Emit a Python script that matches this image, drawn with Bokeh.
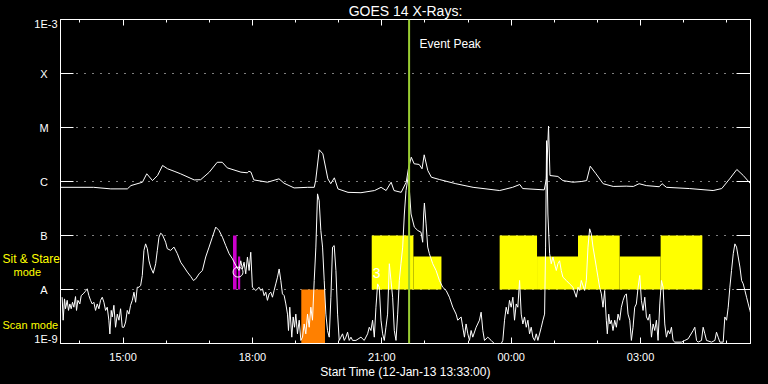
import pandas as pd
from bokeh.plotting import figure
from bokeh.layouts import row
from bokeh.models import (Range1d, FixedTicker, LogAxis, DatetimeAxis, Span, Label,
                          CustomJSTickFormatter)
from bokeh.embed import file_html
from bokeh.resources import INLINE
from bokeh.core.properties import value

# ---------------- data ----------------
START = "2013-01-12 13:33"
END = "2013-01-13 05:33"
EVENT_PEAK = "2013-01-12 21:38"

# long channel (minutes after start, flux W/m^2)
long_pts = [
    (0, 7.8e-7), (46, 7.8e-7), (70, 7.3e-7), (93, 7.3e-7), (98, 8.4e-7), (114, 9.7e-7),
    (120, 1.39e-6), (128, 1.04e-6), (135, 1.29e-6), (142, 1.98e-6), (149, 1.72e-6),
    (158, 1.55e-6), (167, 1.39e-6), (186, 1.07e-6), (195, 1.08e-6), (207, 1.49e-6),
    (218, 2.27e-6), (225, 2.27e-6), (232, 1.79e-6), (251, 1.49e-6), (260, 1.45e-6),
    (262, 1.55e-6), (265, 1.49e-6), (269, 1.07e-6), (288, 9.7e-7), (304, 1.12e-6),
    (311, 9.3e-7), (325, 7.6e-7), (344, 7.8e-7), (353, 7.8e-7), (355, 1.04e-6),
    (360, 3.86e-6), (365, 3.26e-6), (372, 1.12e-6), (376, 9.1e-7), (381, 1.17e-6),
    (386, 7.3e-7), (400, 6.3e-7), (418, 6.2e-7), (437, 6.8e-7), (446, 7.8e-7),
    (453, 6.8e-7), (460, 9.7e-7), (464, 6.8e-7), (474, 6.3e-7), (481, 9.7e-7),
    (484, 1.72e-6), (488, 2.82e-6), (492, 2.13e-6), (499, 2.07e-6), (503, 1.72e-6),
    (506, 3.12e-6), (511, 1.6e-6), (516, 1.2e-6), (527, 1.09e-6), (550, 9.1e-7),
    (574, 7.8e-7), (592, 7.3e-7), (611, 6.8e-7), (629, 7.8e-7), (639, 8.8e-7),
    (643, 7.4e-7), (673, 7.0e-7), (676, 1.12e-6), (679, 1.06e-5), (681, 1.29e-6),
    (692, 1.24e-6), (699, 1.04e-6), (713, 9.7e-7), (725, 1.0e-6), (732, 1.04e-6),
    (737, 1.92e-6), (745, 1.39e-6), (755, 9.1e-7), (769, 8.1e-7), (787, 8.2e-7),
    (797, 8.1e-7), (805, 9.1e-7), (815, 8.4e-7), (833, 8.0e-7), (837, 9.1e-7),
    (843, 7.8e-7), (875, 7.4e-7), (908, 6.8e-7), (920, 7.4e-7), (931, 1.12e-6),
    (941, 1.67e-6), (950, 1.29e-6), (960, 9.1e-7),
]

# short channel (minutes after start, flux W/m^2)
short_pts = [
    (2.3, 7.2e-9), (3.7, 2.7e-9), (5.6, 6.7e-9), (7.0, 4.4e-9), (9.3, 6.3e-9), (11.1, 4.1e-9),
    (13.0, 5.4e-9), (14.9, 4.4e-9), (16.7, 5.8e-9), (18.6, 4.7e-9), (20.9, 7.4e-9), (22.3, 4.1e-9),
    (24.2, 6.3e-9), (26.9, 5.4e-9), (28.8, 7.7e-9), (31.6, 8.3e-9), (34.8, 9.3e-9), (37.2, 1.03e-8),
    (39.5, 7.7e-9), (41.8, 6.3e-9), (44.1, 5.4e-9), (46.4, 5.8e-9), (48.8, 4.1e-9), (51.1, 5.4e-9),
    (53.4, 4.4e-9), (55.7, 6.3e-9), (58.1, 7.2e-9), (60.4, 5.8e-9), (62.7, 4.1e-9), (65.0, 4.7e-9),
    (67.3, 2.7e-9), (68.7, 1.5e-9), (70.6, 4.1e-9), (72.0, 3.1e-9), (74.3, 5.1e-9), (76.6, 2.0e-9),
    (79.0, 3.5e-9), (81.3, 2.7e-9), (83.6, 4.4e-9), (85.9, 2.0e-9), (88.3, 2.0e-9), (90.6, 2.5e-9),
    (92.9, 4.1e-9), (95.2, 3.5e-9), (97.5, 5.1e-9), (99.9, 6.3e-9), (102.2, 8.9e-9), (104.5, 5.8e-9),
    (106.8, 1.1e-8), (109.2, 1.1e-8), (111.5, 1.19e-8), (113.8, 1.82e-8), (116.1, 5.3e-8),
    (118.4, 7.0e-8), (120.8, 5.7e-8), (123.1, 3.4e-8), (125.4, 2.6e-8), (129.1, 2.0e-8),
    (132.4, 3.0e-8), (134.7, 5.3e-8), (137.0, 9.3e-8), (139.3, 1.1e-7), (141.7, 1.04e-7),
    (146.3, 7.5e-8), (148.6, 5.7e-8), (153.3, 5.3e-8), (157.9, 6.1e-8), (162.6, 4.6e-8),
    (167.2, 3.2e-8), (171.9, 2.6e-8), (176.5, 2.1e-8), (181.2, 1.74e-8), (184.9, 1.47e-8),
    (188.1, 1.57e-8), (192.8, 1.95e-8), (197.4, 2.25e-8), (202.0, 4.0e-8), (206.7, 6.1e-8),
    (211.3, 9.3e-8), (216.0, 1.43e-7), (220.6, 1.24e-7), (225.3, 9.3e-8), (229.9, 6.5e-8),
    (234.6, 4.6e-8), (239.2, 3.7e-8),
    (243.8, 2.8e-8), (248.4, 2.25e-8), (250.8, 3.4e-8), (253.1, 2.4e-8), (255.4, 3.2e-8),
    (257.7, 1.95e-8), (260.1, 4.0e-8), (262.4, 2.25e-8), (264.7, 4.9e-8), (267.0, 1.1e-8),
    (269.3, 1.03e-8), (271.7, 9.6e-9), (276.3, 1.1e-8), (278.6, 9.6e-9), (281.0, 1.03e-8),
    (283.3, 7.7e-9), (285.6, 8.9e-9), (287.9, 6.3e-9), (290.3, 8.3e-9), (292.6, 8.9e-9),
    (294.9, 7.2e-9), (297.2, 9.6e-9), (299.5, 1.27e-8), (301.9, 1.69e-8), (304.2, 2.4e-8),
    (306.5, 1.47e-8), (308.8, 8.3e-9), (311.2, 7.7e-9), (313.5, 5.4e-9), (315.8, 3.5e-9),
    (317.2, 1.74e-9), (319.0, 4.7e-9), (321.8, 1.31e-9), (323.7, 3.1e-9), (325.6, 2.0e-9),
    (327.4, 3.5e-9), (329.7, 1.51e-9), (332.1, 2.7e-9), (334.4, 1.14e-9), (336.7, 1.31e-9),
    (339.0, 2.3e-9), (341.3, 1.51e-9), (343.7, 3.5e-9), (346.0, 2.0e-9), (348.3, 4.7e-9),
    (350.6, 2.7e-9), (353.0, 1.47e-8), (355.3, 6.1e-8), (357.6, 5.9e-7), (359.9, 4.4e-7),
    (362.2, 1.24e-7), (364.6, 6.1e-8), (366.9, 1.47e-8), (369.2, 3.5e-9), (371.5, 1.74e-9),
    (373.9, 1.31e-9), (376.2, 7.2e-9), (378.5, 6.1e-8), (380.8, 6.5e-8), (383.2, 2.25e-8),
    (385.5, 3.5e-9), (387.8, 1.14e-9), (390.1, 1.31e-9), (392.4, 1.51e-9), (394.8, 1.14e-9),
    (397.1, 1.31e-9), (399.4, 1.62e-9), (401.7, 1.14e-9), (404.1, 1.31e-9), (406.4, 1.14e-9),
    (411.0, 1.14e-9), (418.0, 1.31e-9), (422.6, 1.14e-9), (427.3, 1.51e-9), (429.6, 2.0e-9),
    (431.9, 1.74e-9), (434.2, 2.7e-9), (436.6, 1.31e-9), (438.9, 4.7e-9), (441.2, 1.27e-8),
    (443.5, 1.1e-8), (445.9, 2.7e-9), (448.2, 1.51e-9), (450.5, 1.14e-9), (452.8, 2.0e-9),
    (455.1, 3.5e-9), (457.5, 3.0e-8), (459.8, 1.47e-8), (462.1, 7.2e-9), (464.4, 1.74e-9),
    (466.8, 1.14e-9), (469.1, 3.5e-9), (471.4, 1.47e-8), (473.7, 3.0e-8), (476.1, 6.1e-8),
    (478.4, 2.5e-7), (480.7, 6.8e-7), (484.0, 1.3e-6),
    (487.7, 2.5e-7), (492.3, 1.43e-7), (497.0, 1.24e-7), (501.6, 1.15e-7), (503.9, 7.5e-8),
    (505.3, 2.5e-7), (506.3, 4.0e-7), (508.6, 1.64e-7), (510.9, 6.1e-8), (513.2, 4.6e-8),
    (517.9, 3.0e-8), (522.5, 2.25e-8), (527.2, 1.47e-8), (531.8, 1.1e-8), (536.5, 9.6e-9),
    (541.1, 7.2e-9), (545.8, 4.7e-9), (550.4, 3.5e-9), (552.7, 2.7e-9), (557.4, 3.1e-9),
    (559.7, 2.0e-9), (562.0, 1.31e-9), (564.3, 2.3e-9), (566.7, 1.51e-9), (569.0, 1.14e-9),
    (571.3, 1.74e-9), (573.6, 1.31e-9), (578.3, 2.0e-9), (582.9, 2.7e-9), (585.2, 3.8e-9),
    (587.6, 1.74e-9), (589.9, 1.14e-9), (594.5, 1.31e-9), (599.2, 1.14e-9), (603.8, 9.9e-10),
    (613.1, 9.9e-10), (615.4, 1.14e-9), (617.8, 2.7e-9), (620.1, 4.7e-9), (622.4, 3.5e-9),
    (624.7, 6.3e-9), (627.0, 4.7e-9), (629.4, 7.2e-9), (631.7, 2.7e-9), (634.0, 5.4e-9),
    (636.3, 4.7e-9), (638.7, 1.47e-8), (641.0, 3.5e-9), (643.3, 2.3e-9), (645.6, 3.1e-9),
    (648.0, 2.0e-9), (650.3, 2.7e-9), (652.6, 1.51e-9), (654.9, 2.0e-9), (657.2, 1.31e-9),
    (659.6, 1.14e-9), (661.9, 1.51e-9), (664.2, 1.14e-9), (668.9, 2.0e-9), (671.2, 2.7e-9),
    (673.5, 3.5e-9), (674.9, 6.1e-8), (676.3, 5.7e-6), (678.1, 2.5e-7), (680.5, 4.6e-8),
    (682.8, 3.0e-8), (685.1, 4.0e-8), (687.4, 3.0e-8), (689.8, 2.25e-8), (692.1, 3.0e-8),
    (694.4, 3.4e-8), (696.7, 2.25e-8), (699.0, 1.69e-8), (703.7, 1.47e-8), (708.3, 1.27e-8),
    (713.0, 1.1e-8), (717.6, 7.2e-9), (720.0, 1.1e-8), (722.3, 9.6e-9), (724.6, 1.47e-8),
    (729.2, 9.6e-9), (731.6, 1.47e-8), (733.9, 6.1e-8), (736.2, 1.33e-7), (738.5, 1.07e-7),
    (740.9, 6.1e-8), (743.2, 4.0e-8), (745.5, 2.6e-8), (747.8, 1.69e-8), (750.1, 1.1e-8),
    (752.5, 8.3e-9), (754.8, 4.7e-9), (757.1, 9.6e-9), (759.4, 2.7e-9), (760.8, 1.51e-9),
    (762.7, 3.5e-9), (764.5, 2.3e-9), (766.4, 2.7e-9), (768.7, 1.74e-9), (771.1, 2.7e-9),
    (773.4, 2.0e-9), (775.7, 3.5e-9), (778.0, 2.7e-9), (780.3, 4.7e-9), (782.7, 6.3e-9),
    (785.0, 7.7e-9), (787.3, 8.3e-9), (789.6, 3.5e-9), (792.0, 2.7e-9), (794.3, 1.14e-9),
    (796.6, 2.0e-9), (798.9, 4.7e-9), (801.2, 5.4e-9), (803.6, 1.1e-8), (805.9, 1.82e-8),
    (808.2, 6.3e-9), (810.5, 4.1e-9), (812.9, 7.2e-9), (815.2, 3.1e-9), (817.5, 2.7e-9),
    (819.8, 3.5e-9), (822.2, 1.31e-9), (824.5, 2.3e-9), (826.8, 1.74e-9), (829.1, 2.7e-9),
    (831.4, 1.14e-9), (833.8, 5.4e-9), (836.1, 1.47e-8), (838.4, 1.1e-8), (840.7, 2.3e-9),
    (843.0, 1.31e-9), (845.4, 1.74e-9), (847.7, 1.51e-9), (850.0, 2.0e-9), (852.3, 1.14e-9),
    (854.7, 1.06e-9), (864.0, 1.06e-9), (868.6, 1.14e-9), (873.2, 1.22e-9), (880.2, 1.74e-9),
    (882.5, 2.0e-9), (884.9, 1.14e-9), (887.2, 1.06e-9), (891.8, 1.14e-9), (894.1, 2.0e-9),
    (896.5, 1.51e-9), (898.8, 1.14e-9), (905.8, 1.06e-9), (910.4, 1.14e-9), (912.7, 1.62e-9),
    (915.0, 1.31e-9), (917.4, 1.06e-9), (922.0, 1.06e-9), (924.3, 3.1e-9), (926.7, 2.7e-9),
    (929.0, 4.7e-9), (931.3, 1.1e-8), (933.6, 2.25e-8), (936.0, 4.6e-8), (938.3, 7.0e-8),
    (940.6, 6.1e-8), (942.9, 4.0e-8), (945.3, 2.6e-8), (947.6, 1.47e-8), (949.9, 1.27e-8),
    (952.2, 9.6e-9), (954.5, 7.2e-9), (956.9, 5.4e-9), (959.2, 4.1e-9), (961.5, 3.1e-9),
]

# Sit & Stare mode intervals
ss_start = ["2013-01-12 20:46", "2013-01-12 21:44", "2013-01-12 23:44", "2013-01-13 00:36",
            "2013-01-13 01:33", "2013-01-13 02:31", "2013-01-13 03:28"]
ss_end = ["2013-01-12 21:44", "2013-01-12 22:23", "2013-01-13 00:36", "2013-01-13 01:33",
          "2013-01-13 02:31", "2013-01-13 03:28", "2013-01-13 04:26"]
ss_top = [1e-7, 4.1e-8, 1e-7, 4.1e-8, 1e-7, 4.1e-8, 1e-7]
ss_bottom = [1e-8] * 7

# Scan mode interval
scan_start = ["2013-01-12 19:08"]
scan_end = ["2013-01-12 19:41"]
scan_top = [1e-8]
scan_bottom = [1e-9]

# magenta markers
mag_start = ["2013-01-12 17:33", "2013-01-12 17:40"]
mag_end = ["2013-01-12 17:38", "2013-01-12 17:43"]
mag_top = [1e-7, 4.1e-8]
mag_bottom = [1e-8, 1e-8]

circle_time = ["2013-01-12 17:40"]
circle_flux = [2.1e-8]
num_time = ["2013-01-12 20:53"]
num_flux = [2.0e-8]
num_text = ["3"]

ytick_values = [1e-9, 1e-8, 1e-7, 1e-6, 1e-5, 1e-4, 1e-3]
ytick_labels = ["1E-9", "A", "B", "C", "M", "X", "1E-3"]
grid_values = [1e-8, 1e-7, 1e-6, 1e-5, 1e-4]
xtick_times = ["2013-01-12 15:00", "2013-01-12 18:00", "2013-01-12 21:00",
               "2013-01-13 00:00", "2013-01-13 03:00"]
xminor_times = ["2013-01-12 14:00", "2013-01-12 15:00", "2013-01-12 16:00", "2013-01-12 17:00",
                "2013-01-12 18:00", "2013-01-12 19:00", "2013-01-12 20:00", "2013-01-12 21:00",
                "2013-01-12 22:00", "2013-01-12 23:00", "2013-01-13 00:00", "2013-01-13 01:00",
                "2013-01-13 02:00", "2013-01-13 03:00", "2013-01-13 04:00", "2013-01-13 05:00"]

# ---------------- helpers ----------------
FONT = "Liberation Sans"


def ms(ts):
    return pd.Timestamp(ts).value / 1e6


def tlist(lst):
    return [pd.Timestamp(s) for s in lst]


t0 = pd.Timestamp(START)
long_x = [t0 + pd.Timedelta(minutes=m) for m, _ in long_pts]
long_y = [f for _, f in long_pts]
short_x = [t0 + pd.Timedelta(minutes=m) for m, _ in short_pts]
short_y = [f for _, f in short_pts]

W, H = 768, 384
FL, FR, FT, FB = 60, 750, 19, 343


def px_x(px):
    return ms(START) + (px - FL) / (FR - FL) * (ms(END) - ms(START))


def px_y(py):
    return 10 ** (-3 - (py - FT) / (FB - FT) * 6)


yr = Range1d(1e-9, 1e-3)

# ---------------- main plot ----------------
p = figure(width=W - FL, height=H, x_axis_type="datetime", y_axis_type="log",
           x_range=Range1d(ms(START), ms(END)), y_range=yr,
           output_backend="svg", toolbar_location=None,
           background_fill_color="black", border_fill_color="black",
           min_border_left=0, min_border_right=W - FR, min_border_top=FT,
           min_border_bottom=H - FB, outline_line_color="white")

p.title.text = "GOES 14 X-Rays:"
p.title.align = "center"
p.title.text_color = "white"
p.title.text_font = FONT
p.title.text_font_size = "14px"
p.title.text_font_style = "normal"
p.title.standoff = 0
p.title.vertical_align = "middle"

# grid
p.xgrid.visible = False
p.ygrid.ticker = FixedTicker(ticks=grid_values)
p.ygrid.grid_line_color = "white"
p.ygrid.grid_line_dash = "1 7"
p.ygrid.grid_line_width = 1

# x axes
xt = FixedTicker(ticks=[ms(t) for t in xtick_times], minor_ticks=[ms(t) for t in xminor_times])
xfmt = CustomJSTickFormatter(code="""
const d = new Date(tick);
const h = d.getUTCHours(), m = d.getUTCMinutes();
return (h < 10 ? '0' : '') + h + ':' + (m < 10 ? '0' : '') + m;
""")
empty = CustomJSTickFormatter(code="return '';")
xa = p.xaxis[0]
xa.ticker = xt
xa.formatter = xfmt
xa.axis_label = "Start Time (12-Jan-13 13:33:00)"
ta = DatetimeAxis(ticker=xt, formatter=empty)
p.add_layout(ta, "above")
for ax in (xa, ta):
    ax.axis_line_color = "white"
    ax.major_tick_line_color = "white"
    ax.minor_tick_line_color = "white"
    ax.major_tick_in = 6
    ax.major_tick_out = 0
    ax.minor_tick_in = 3
    ax.minor_tick_out = 0
    ax.major_label_text_color = "white"
    ax.major_label_text_font = FONT
    ax.major_label_text_font_size = "11px"
    ax.axis_label_text_color = "white"
    ax.axis_label_text_font = FONT
    ax.axis_label_text_font_size = "12px"
    ax.axis_label_text_font_style = "normal"
xa.major_label_standoff = 7
xa.axis_label_standoff = -1
ta.major_label_standoff = 0
ta.major_label_text_font_size = "0px"

# y axes (ticks only; labels drawn in the left strip)
yt = FixedTicker(ticks=ytick_values, minor_ticks=[])
ya = p.yaxis[0]
ya.ticker = yt
ya.formatter = empty
ra = LogAxis(ticker=yt, formatter=empty)
p.add_layout(ra, "right")
for ax in (ya, ra):
    ax.axis_line_color = "white"
    ax.major_tick_line_color = "white"
    ax.minor_tick_line_color = None
    ax.major_tick_out = 0
    ax.major_label_standoff = 0
    ax.major_label_text_font_size = "0px"
ya.major_tick_in = 13
ra.major_tick_in = 14

# mode bars
p.quad(left=tlist(mag_start), right=tlist(mag_end), bottom=mag_bottom, top=mag_top,
       fill_color="#CC00CC", line_color=None)
p.quad(left=tlist(scan_start), right=tlist(scan_end), bottom=scan_bottom, top=scan_top,
       fill_color="#FF8000", line_color=None)
p.quad(left=tlist(ss_start), right=tlist(ss_end), bottom=ss_bottom, top=ss_top,
       fill_color="#FFFF00", line_color=None)

# curves
p.line(long_x, long_y, line_color="white", line_width=1)
p.line(short_x, short_y, line_color="white", line_width=1)

p.scatter(tlist(circle_time), circle_flux, marker="circle", size=10,
          fill_color=None, line_color="white", line_width=1)
p.text(tlist(num_time), num_flux, text=num_text, text_color="white",
       text_font=value(FONT), text_font_size="14px", text_align="center",
       text_baseline="middle")

# event peak
p.add_layout(Span(location=ms(EVENT_PEAK), dimension="height",
                  line_color="#9ACD32", line_width=2))
p.add_layout(Label(x=px_x(419), y=px_y(43), text="Event Peak", text_align="left",
                   text_baseline="middle", text_color="white", text_font=FONT,
                   text_font_size="12px"))

# ---------------- left strip: y tick labels and mode names ----------------
s = figure(width=FL, height=H, y_axis_type="log", x_range=Range1d(0, FL), y_range=yr,
           output_backend="svg", toolbar_location=None,
           x_axis_location=None, y_axis_location=None,
           background_fill_color="black", border_fill_color="black",
           min_border_left=0, min_border_right=0, min_border_top=FT,
           min_border_bottom=H - FB, outline_line_color=None)
s.grid.visible = False

letter_vals = ytick_values[1:-1]
letter_txt = ytick_labels[1:-1]
end_vals = [ytick_values[0], ytick_values[-1]]
end_txt = [ytick_labels[0], ytick_labels[-1]]
s.text(x=[43.5] * len(letter_vals), y=letter_vals, text=letter_txt, text_color="white",
       text_font=value(FONT), text_font_size="11px", text_align="center",
       text_baseline="middle")
s.text(x=[57, 57], y=end_vals, text=end_txt, y_offset=[-5, 4.5], text_color="white",
       text_font=value(FONT), text_font_size="11px", text_align="right",
       text_baseline="middle")

mode_txt = ["Sit & Stare", "mode", "Scan mode"]
mode_x = [2, 13, 2]
mode_py = [258.5, 271, 324]
mode_size = ["12px", "11px", "11px"]
for t, x, py, fs in zip(mode_txt, mode_x, mode_py, mode_size):
    s.text(x=[x], y=[px_y(py)], text=[t], text_color="#FFFF00", text_font=value(FONT),
           text_font_size=fs, text_align="left", text_baseline="middle")

layout = row(s, p, spacing=0)

html = file_html(layout, INLINE, title="GOES 14 X-Rays")
html = html.replace("</head>",
                    "<style>html,body{margin:0;padding:0;background:#000;overflow:hidden;}</style></head>", 1)
open("out.html", "w").write(html)
